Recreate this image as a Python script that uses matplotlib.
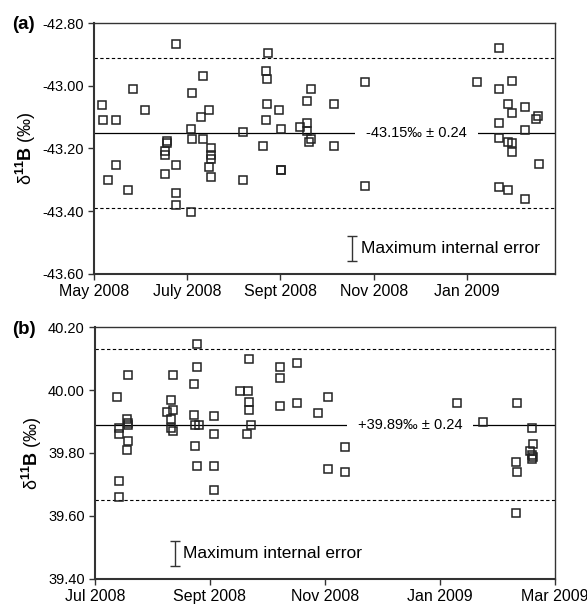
import matplotlib
matplotlib.use("Agg")
import matplotlib.pyplot as plt

plt.rcParams["font.family"] = ["Liberation Sans", "DejaVu Sans"]
plt.rcParams["axes.unicode_minus"] = False
plt.rcParams["mathtext.fontset"] = "custom"
plt.rcParams["mathtext.rm"] = "Liberation Sans"
plt.rcParams["mathtext.bf"] = "Liberation Sans:bold"

# (a) days after 1 May 2008, delta11B in permil
a_days = [5.0, 5.7, 14.4, 25.3, 33.3, 9.3, 14.4, 22.4, 53.6, 71.1, 64.1, 75.0,
          69.8, 63.2, 64.1, 71.5, 47.9, 47.5, 46.6, 46.6, 53.6, 46.6, 53.6, 53.6,
          63.4, 76.3, 76.3, 76.3, 75.0, 76.3, 97.4, 97.4, 110.7, 114.0, 112.3,
          113.1, 113.1, 121.0, 112.3, 122.5, 122.2, 122.5, 141.7, 139.3, 156.9,
          134.7, 139.3, 139.3, 140.8, 141.7, 156.9, 177.4, 177.4, 265.0, 250.6,
          265.0, 273.3, 270.9, 273.3, 282.0, 289.0, 290.5, 265.0, 282.0, 265.0,
          270.9, 273.3, 273.3, 291.4, 265.0, 270.9, 282.0]
a_vals = [-43.060, -43.109, -43.109, -43.010, -43.077, -43.301, -43.252, -43.331,
          -42.867, -42.968, -43.024, -43.077, -43.099, -43.139, -43.169, -43.169,
          -43.175, -43.181, -43.207, -43.220, -43.252, -43.280, -43.341, -43.379,
          -43.401, -43.200, -43.220, -43.232, -43.260, -43.290, -43.148, -43.301,
          -43.191, -42.897, -42.954, -42.977, -43.059, -43.077, -43.109, -43.138,
          -43.268, -43.270, -43.009, -43.049, -43.059, -43.130, -43.120, -43.143,
          -43.180, -43.169, -43.191, -42.988, -43.320, -42.879, -42.988, -43.009,
          -42.986, -43.059, -43.088, -43.069, -43.107, -43.098, -43.120, -43.141,
          -43.168, -43.178, -43.181, -43.210, -43.250, -43.322, -43.332, -43.362]

# (b) days after 1 July 2008
b_days = [11.5, 17.7, 12.9, 12.9, 17.1, 17.7, 17.7, 17.7, 16.8, 12.6, 12.6, 41.2,
          40.2, 38.4, 41.2, 40.2, 40.2, 41.2, 53.9, 53.9, 52.5, 52.5, 53.2, 55.3,
          52.9, 53.9, 63.1, 63.1, 63.1, 63.1, 76.9, 81.3, 81.5, 81.5, 81.5, 82.6,
          80.8, 98.1, 98.1, 107.0, 98.1, 107.0, 118.3, 123.6, 132.5, 123.6, 132.5,
          191.9, 206.0, 224.2, 231.8, 232.5, 231.1, 231.8, 232.5, 231.8, 223.3,
          224.2, 223.3]
b_vals = [39.977, 40.048, 39.879, 39.860, 39.909, 39.896, 39.888, 39.839, 39.810,
          39.710, 39.660, 40.048, 39.969, 39.929, 39.937, 39.909, 39.879, 39.869,
          40.147, 40.075, 40.019, 39.922, 39.888, 39.888, 39.821, 39.760, 39.919,
          39.860, 39.760, 39.681, 39.998, 39.998, 40.098, 39.961, 39.937, 39.888,
          39.860, 40.075, 40.038, 40.086, 39.948, 39.959, 39.928, 39.977, 39.820,
          39.749, 39.738, 39.959, 39.897, 39.959, 39.881, 39.830, 39.807, 39.795,
          39.787, 39.782, 39.770, 39.738, 39.610]

a_mean, b_mean, two_sd = -43.15, 39.89, 0.24
max_err = 0.04

a_ticklabels = ["May 2008", "July 2008", "Sept 2008", "Nov 2008", "Jan 2009"]
b_ticklabels = ["Jul 2008", "Sept 2008", "Nov 2008", "Jan 2009", "Mar 2009"]
a_yticks = [-43.6, -43.4, -43.2, -43.0, -42.8]
b_yticks = [39.4, 39.6, 39.8, 40.0, 40.2]


def draw_panel(ax, days, vals, mean, label, yticks, ticklabels, xmax,
               text_x, err_x):
    ax.axhline(mean, color="black", lw=0.9, zorder=1)
    for lim in (mean - two_sd, mean + two_sd):
        ax.axhline(lim, color="black", lw=0.8, ls=(0, (3, 2.2)), zorder=1)
    ax.plot(days, vals, ls="none", marker="s", ms=6.2, mfc="none",
            mec="#222222", mew=1.1, zorder=3)
    ax.text(text_x, mean, label, transform=ax.get_yaxis_transform(),
            ha="center", va="center", fontsize=10.5, zorder=2,
            bbox=dict(boxstyle="square,pad=0.75", fc="white", ec="none"))

    err_y = yticks[0] + 0.08
    ax.errorbar([err_x], [err_y], yerr=max_err, fmt="none", ecolor="#333333",
                elinewidth=1, capsize=3.5, capthick=1,
                transform=ax.get_yaxis_transform())
    ax.text(err_x + 0.018, err_y, "Maximum internal error",
            transform=ax.get_yaxis_transform(), ha="left", va="center",
            fontsize=12.5)

    ax.set_ylim(yticks[0], yticks[-1])
    ax.set_yticks(yticks)
    ax.set_yticklabels([f"{t:.2f}" for t in yticks], fontsize=10.5)
    ax.set_xlim(0, xmax)
    ax.set_xticks([61 * i for i in range(len(ticklabels))])
    ax.set_xticklabels(ticklabels, fontsize=11.5)
    ax.tick_params(direction="out", length=4, width=1, color="#333333")
    for side in ("left", "bottom"):
        ax.spines[side].set_linewidth(1.5)
        ax.spines[side].set_color("#333333")
    for side in ("top", "right"):
        ax.spines[side].set_linewidth(1.0)
        ax.spines[side].set_color("#333333")
    ax.set_ylabel(r"δ$^{\mathbf{11}}$$\mathbf{B}$ (‰)", fontsize=13, labelpad=3)


fig = plt.figure(figsize=(5.87, 6.06), dpi=100)
ax_a = fig.add_axes([0.160, 0.548, 0.785, 0.414])
ax_b = fig.add_axes([0.162, 0.045, 0.783, 0.415])

draw_panel(ax_a, a_days, a_vals, a_mean, "-43.15‰ ± 0.24", a_yticks,
           a_ticklabels, 301.4, 0.70, 0.561)
draw_panel(ax_b, b_days, b_vals, b_mean, "+39.89‰ ± 0.24", b_yticks,
           b_ticklabels, 244, 0.685, 0.174)

fig.text(0.02, 0.959, "(a)", fontsize=13.5, fontweight="bold", va="center")
fig.text(0.02, 0.457, "(b)", fontsize=13.5, fontweight="bold", va="center")

fig.savefig("out.png", dpi=100)
